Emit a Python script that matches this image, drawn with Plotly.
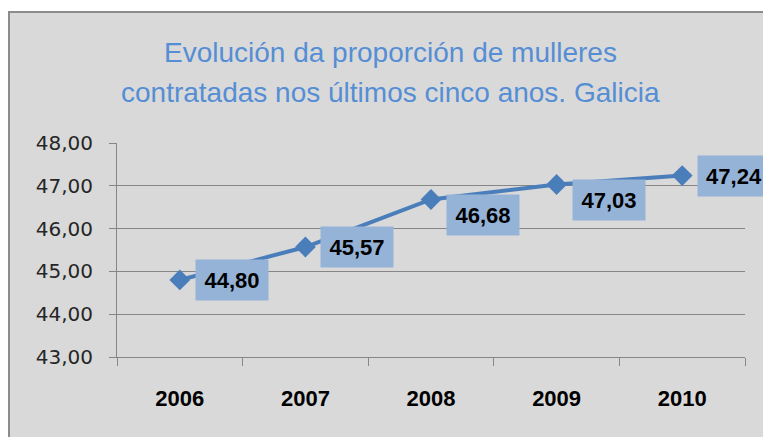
import plotly.graph_objects as go

years = ["2006", "2007", "2008", "2009", "2010"]
values = [44.80, 45.57, 46.68, 47.03, 47.24]
y_ticks = [43, 44, 45, 46, 47, 48]
title_lines = ["Evolución da proporción de mulleres", "contratadas nos últimos cinco anos. Galicia"]

# label vertical offsets (style)
label_yshift = [0, 0, -15, -15, 0]
# title line centre positions in pixels (style)
title_line_px = [52.5, 92.5]

W, H = 763, 437
L, R, T, B = 117, 18, 143, 80
pw, ph = W - L - R, H - T - B

def px_x(p):
    return (p - L) / pw

def px_y(p):
    return (H - B - p) / ph

fig = go.Figure()
fig.add_trace(go.Scatter(
    x=years, y=values, mode="lines+markers",
    line=dict(color="#4a7ebb", width=4),
    marker=dict(symbol="diamond", size=16, color="#4a7ebb"),
    hoverinfo="skip", showlegend=False,
))

for i, (v, ys) in enumerate(zip(values, label_yshift)):
    fig.add_annotation(
        x=i, y=v, xref="x", yref="y", xanchor="left", yanchor="middle",
        xshift=15, yshift=ys, showarrow=False,
        text="<b>" + f"{v:.2f}".replace(".", ",") + "</b>",
        font=dict(family="Liberation Sans", size=22, color="#000000"),
        bgcolor="#95b3d7", width=68, height=36, borderpad=2,
    )

for line, ypx in zip(title_lines, title_line_px):
    fig.add_annotation(
        x=px_x(390), y=px_y(ypx), xref="paper", yref="paper",
        xanchor="center", yanchor="middle", showarrow=False,
        text=line, font=dict(family="Liberation Sans", size=28, color="#558ed5"),
    )

fig.update_layout(
    width=W, height=H,
    margin=dict(l=L, r=R, t=T, b=B),
    paper_bgcolor="#ffffff",
    plot_bgcolor="rgba(0,0,0,0)",
    separators=",.",
    shapes=[dict(
        type="rect", xref="paper", yref="paper",
        x0=px_x(9), x1=px_x(790), y0=px_y(470), y1=px_y(12),
        line=dict(color="#8c8c8c", width=2), fillcolor="#d9d9d9", layer="below",
    )],
    xaxis=dict(
        type="category", range=[-0.5, 4.5],
        showline=True, linecolor="#868686", linewidth=1,
        ticks="outside", ticklen=8, tickcolor="#868686", tickson="boundaries",
        showgrid=False, zeroline=False,
        tickfont=dict(family="Liberation Sans", size=22, color="#000000", weight="bold"),
        ticklabelstandoff=22,
    ),
    yaxis=dict(
        range=[43, 48], tickvals=y_ticks, tickformat=".2f",
        showline=True, linecolor="#868686", linewidth=1,
        ticks="outside", ticklen=7, tickcolor="#868686",
        showgrid=True, gridcolor="#868686", gridwidth=1, zeroline=False,
        tickfont=dict(family="DejaVu Sans", size=20, color="#262626"),
        ticklabelstandoff=12,
    ),
)

fig.write_html("out.html", config={"displayModeBar": False},
               post_script="document.body.style.margin='0';document.body.style.overflow='hidden';")
